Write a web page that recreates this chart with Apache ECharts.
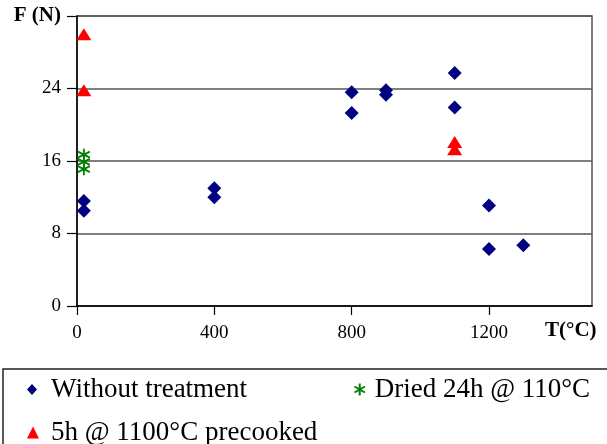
<!DOCTYPE html>
<html>
<head>
<meta charset="utf-8">
<script src="https://cdn.jsdelivr.net/npm/echarts@6/dist/echarts.min.js"></script>
<style>
  html, body { margin: 0; padding: 0; background: #fff; }
  #chart { width: 607px; height: 444px; }
</style>
</head>
<body>
<div id="chart"></div>
<script>
// Breaking force F (N) against treatment temperature T (°C)
const untreatedT = [20, 20, 400, 400, 800, 800, 900, 900, 1100, 1100, 1200, 1200, 1300];
const untreatedF = [11.6, 10.5, 13.0, 12.0, 23.6, 21.3, 23.8, 23.3, 25.7, 21.9, 11.1, 6.3, 6.7];

const driedT = [20, 20, 20];
const driedF = [16.7, 15.9, 15.1];

const precookedT = [20, 20, 1100, 1100];
const precookedF = [30.0, 23.8, 18.1, 17.3];

const xTicks = [0, 400, 800, 1200];
const yTicks = [0, 8, 16, 24, 32];

const seriesNames = ['Without treatment', 'Dried 24h @ 110°C', '5h @ 1100°C precooked'];

const serif = 'Liberation Serif';
const pairs = (xs, ys) => xs.map((x, i) => [x, ys[i]]);

// six-armed asterisk marker
const asterisk = 'path://M0,-1L0,1M-0.87,-0.5L0.87,0.5M-0.87,0.5L0.87,-0.5';

const chart = echarts.init(document.getElementById('chart'), null, { renderer: 'canvas' });

function legendEntry(name, left, top, w, h, pad) {
  return {
    data: [name], left: left, top: top, itemWidth: w, itemHeight: h,
    orient: 'horizontal', itemGap: 0, selectedMode: false,
    textStyle: { fontFamily: serif, fontSize: 27, color: '#000', padding: [0, 0, 0, pad] }
  };
}

chart.setOption({
  animation: false,
  backgroundColor: '#fff',
  grid: {
    left: 77, right: 15, top: 16, bottom: 138,
    show: true, borderColor: '#555', borderWidth: 1.5, backgroundColor: 'transparent'
  },
  xAxis: {
    type: 'value',
    min: 0, max: 1500, interval: 400,
    axisLine: { lineStyle: { color: '#000', width: 1.5 } },
    axisTick: { show: true, inside: false, length: 9, customValues: xTicks, lineStyle: { color: '#000', width: 1.2 } },
    axisLabel: {
      customValues: xTicks, margin: 18, fontFamily: serif, fontSize: 19, color: '#000',
      formatter: v => String(v)
    },
    splitLine: { show: false }
  },
  yAxis: {
    type: 'value',
    min: 0, max: 32, interval: 8,
    axisLine: { show: true, lineStyle: { color: '#000', width: 1.5 } },
    axisTick: { show: true, inside: false, length: 10, customValues: yTicks, lineStyle: { color: '#000', width: 1.2 } },
    axisLabel: {
      customValues: yTicks,
      margin: 16, fontFamily: serif, fontSize: 19, color: '#000',
      formatter: v => (v === 32 ? '{b|F (N)}' : String(v)),
      rich: { b: { fontFamily: serif, fontSize: 21, fontWeight: 'bold', color: '#000' } }
    },
    splitLine: { show: true, lineStyle: { color: '#555', width: 1.5 } }
  },
  legend: [
    legendEntry(seriesNames[0], 22, 371, 10, 11, 9),
    legendEntry(seriesNames[1], 347, 371, 12, 12, 4),
    legendEntry(seriesNames[2], 22, 414, 12, 12, 7)
  ],
  series: [
    {
      name: seriesNames[0], type: 'scatter',
      symbol: 'diamond', symbolSize: 14,
      itemStyle: { color: '#000080', opacity: 1 },
      data: pairs(untreatedT, untreatedF)
    },
    {
      name: seriesNames[1], type: 'scatter',
      symbol: asterisk, symbolSize: [12, 12],
      itemStyle: { color: 'none', borderColor: '#008000', borderWidth: 1.8, opacity: 1 },
      data: pairs(driedT, driedF)
    },
    {
      name: seriesNames[2], type: 'scatter',
      symbol: 'triangle', symbolSize: [15, 12],
      itemStyle: { color: '#ff0000', opacity: 1 },
      data: pairs(precookedT, precookedF)
    }
  ],
  graphic: [
    {
      type: 'text', left: 545, top: 320, silent: true,
      style: { text: 'T(°C)', font: 'bold 21px "Liberation Serif"', fill: '#000' }
    },
    {
      type: 'rect', silent: true,
      shape: { x: 3, y: 369, width: 700, height: 200 },
      style: { fill: 'none', stroke: '#222', lineWidth: 1.5 }
    }
  ]
});
</script>
</body>
</html>
